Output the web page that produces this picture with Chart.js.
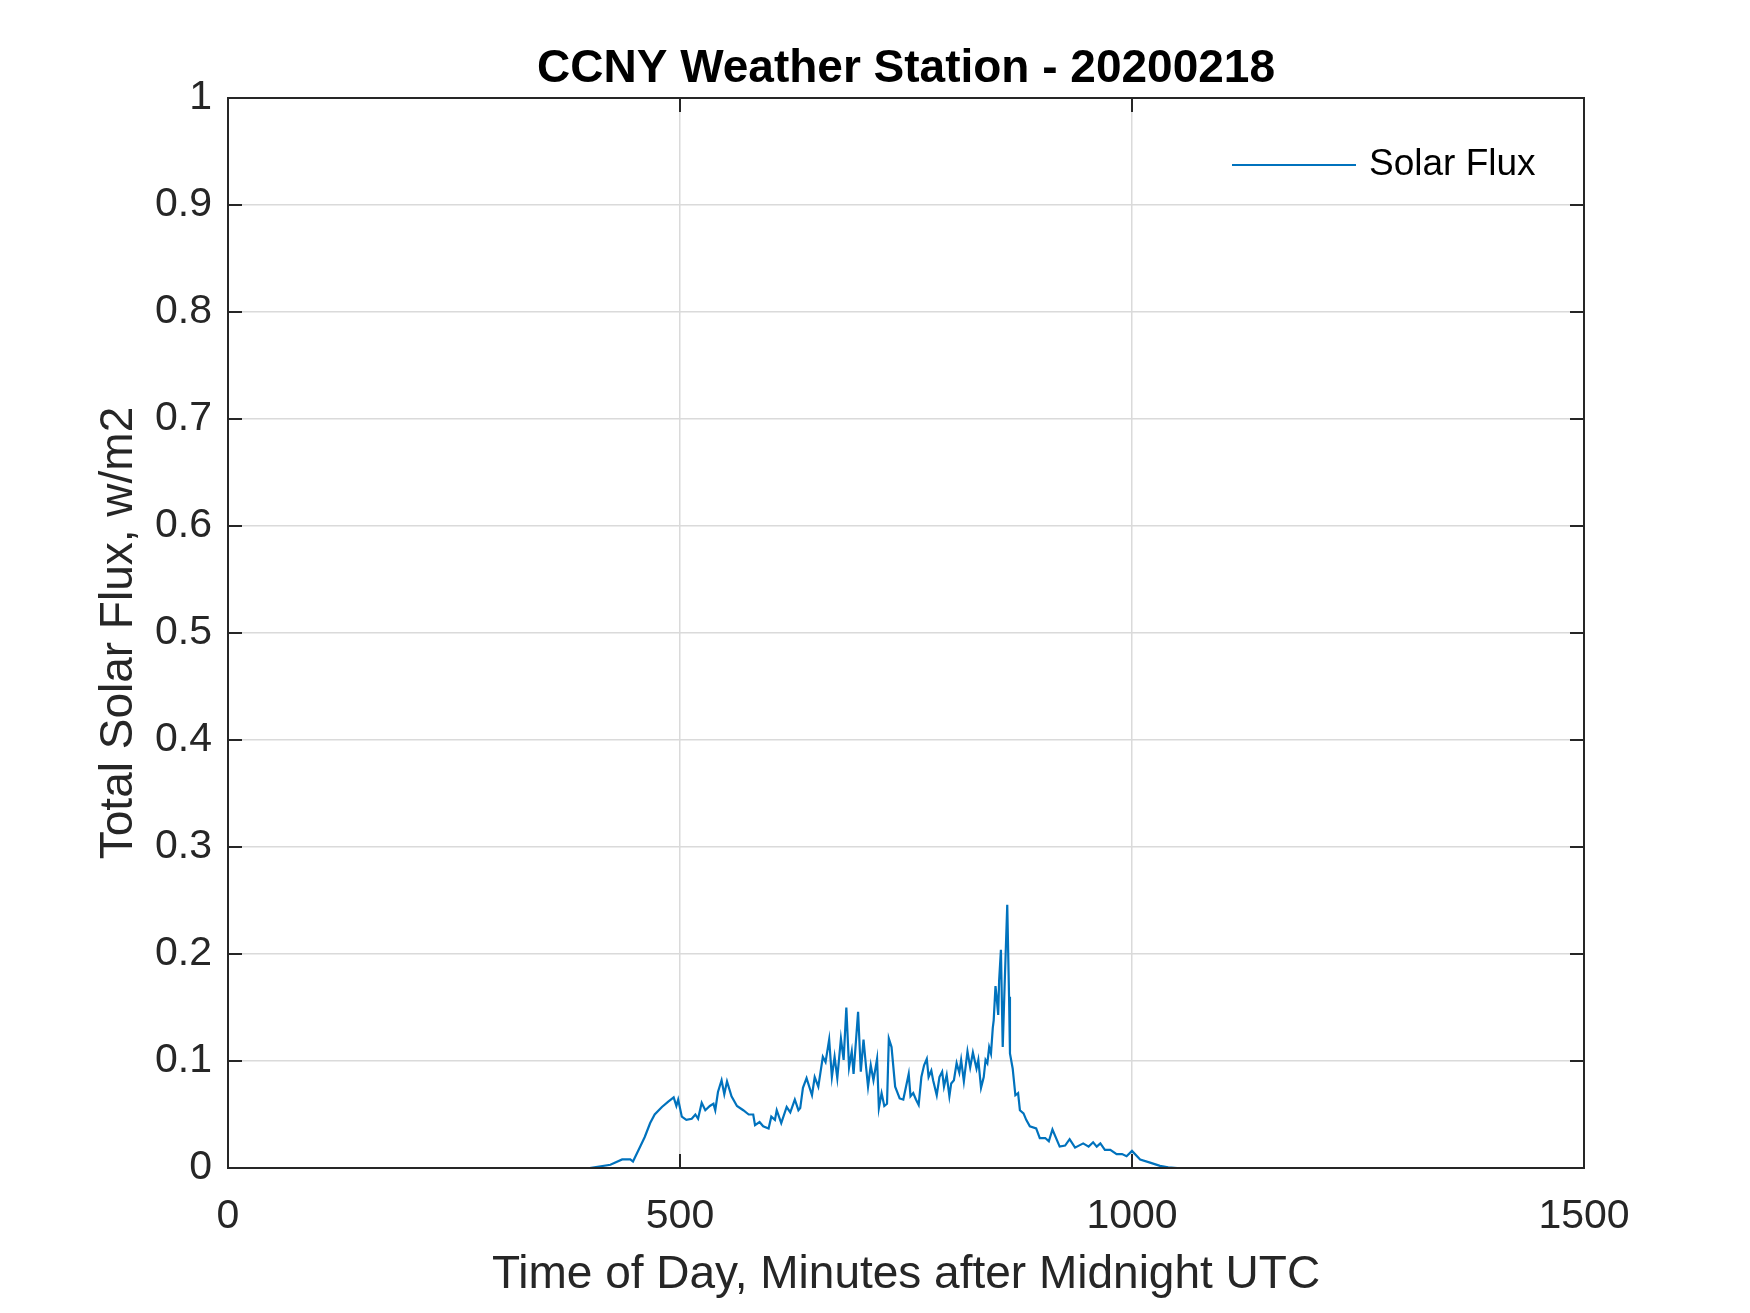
<!DOCTYPE html>
<html>
<head>
<meta charset="utf-8">
<title>CCNY Weather Station - 20200218</title>
<script src="https://cdn.jsdelivr.net/npm/chart.js@4.4.1/dist/chart.umd.min.js"></script>
<style>
  html, body { margin: 0; padding: 0; background: #fff; }
  #wrap { width: 1750px; height: 1313px; }
</style>
</head>
<body>
<div id="wrap"><canvas id="fluxChart" width="1750" height="1313"></canvas></div>
<script>
// Solar flux data
const minutes = [0, 400, 423, 436, 445, 448, 456, 461, 467, 472, 480, 487, 493, 496, 498,
    502, 507, 513, 517, 520, 524, 528, 533, 537, 539, 542, 546, 549, 552, 557,
    563, 570, 576, 581, 583, 588, 592, 598, 601, 605, 607, 612, 618, 622, 627,
    631, 633, 636, 640, 646, 649, 653, 658, 661, 665, 668, 671, 674, 678, 681,
    684, 687, 690, 692, 697, 700, 703, 706, 708, 711, 714, 718, 720, 723, 726,
    729, 731, 734, 738, 743, 747, 750, 753, 755, 758, 761, 764, 767, 770, 773,
    775, 778, 780, 784, 787, 790, 792, 795, 798, 800, 803, 806, 809, 811, 814,
    818, 821, 824, 828, 830, 833, 836, 838, 840, 842, 844, 846, 847, 849, 850,
    852, 853, 855, 857, 859, 862, 864, 865, 868, 871, 874, 876, 880, 883, 887,
    894, 898, 904, 908, 912, 920, 926, 931, 937, 946, 952, 957, 961, 965, 970,
    976, 983, 989, 994, 1000, 1009, 1020, 1031, 1040, 1050, 1440];
const solarFlux = [0, 0, 0.003, 0.008, 0.008, 0.006, 0.020, 0.029, 0.042, 0.050, 0.057, 0.062, 0.066, 0.058, 0.064,
    0.048, 0.045, 0.046, 0.050, 0.046, 0.061, 0.054, 0.058, 0.060, 0.054, 0.071, 0.082, 0.069, 0.081, 0.067,
    0.058, 0.054, 0.050, 0.050, 0.040, 0.043, 0.039, 0.037, 0.048, 0.045, 0.054, 0.042, 0.057, 0.052, 0.064,
    0.054, 0.056, 0.075, 0.084, 0.068, 0.085, 0.076, 0.104, 0.099, 0.120, 0.085, 0.104, 0.084, 0.121, 0.101,
    0.150, 0.094, 0.109, 0.088, 0.146, 0.090, 0.120, 0.093, 0.076, 0.096, 0.082, 0.102, 0.056, 0.070, 0.058,
    0.060, 0.121, 0.113, 0.076, 0.065, 0.064, 0.076, 0.088, 0.067, 0.070, 0.064, 0.059, 0.085, 0.096, 0.102,
    0.085, 0.091, 0.082, 0.068, 0.085, 0.090, 0.076, 0.087, 0.067, 0.079, 0.082, 0.098, 0.089, 0.101, 0.081,
    0.109, 0.094, 0.108, 0.093, 0.101, 0.075, 0.085, 0.101, 0.098, 0.113, 0.107, 0.131, 0.138, 0.170, 0.162,
    0.143, 0.175, 0.204, 0.113, 0.168, 0.246, 0.160, 0.107, 0.093, 0.068, 0.070, 0.054, 0.051, 0.045, 0.039,
    0.037, 0.028, 0.028, 0.025, 0.036, 0.020, 0.021, 0.027, 0.019, 0.023, 0.020, 0.024, 0.020, 0.023, 0.017,
    0.017, 0.013, 0.013, 0.011, 0.016, 0.008, 0.005, 0.002, 0.0006, 0, 0];

const xTicks = [0, 500, 1000, 1500];
const yTicks = [0, 0.1, 0.2, 0.3, 0.4, 0.5, 0.6, 0.7, 0.8, 0.9, 1];

const axisColor = '#262626';
const lineColor = '#0072BD';
const font = '"Liberation Sans", Arial, Helvetica, sans-serif';

// MATLAB-style box with inward ticks, plus the legend
const framePlugin = {
    id: 'frame',
    afterDatasetsDraw(chart) {
        const ctx = chart.ctx;
        const a = chart.chartArea;
        const xs = chart.scales.x;
        const ys = chart.scales.y;
        const tl = 14;
        ctx.save();
        ctx.strokeStyle = axisColor;
        ctx.lineWidth = 2;
        ctx.strokeRect(a.left, a.top, a.right - a.left, a.bottom - a.top);
        ctx.beginPath();
        xTicks.forEach(v => {
            const px = xs.getPixelForValue(v);
            ctx.moveTo(px, a.bottom); ctx.lineTo(px, a.bottom - tl);
            ctx.moveTo(px, a.top); ctx.lineTo(px, a.top + tl);
        });
        yTicks.forEach(v => {
            const py = ys.getPixelForValue(v);
            ctx.moveTo(a.left, py); ctx.lineTo(a.left + tl, py);
            ctx.moveTo(a.right, py); ctx.lineTo(a.right - tl, py);
        });
        ctx.stroke();

        // legend
        const ds = chart.data.datasets[0];
        const ly = a.top + 67;
        ctx.strokeStyle = ds.borderColor;
        ctx.lineWidth = ds.borderWidth;
        ctx.beginPath();
        ctx.moveTo(a.right - 352, ly);
        ctx.lineTo(a.right - 228, ly);
        ctx.stroke();
        ctx.fillStyle = '#000';
        ctx.font = '37px ' + font;
        ctx.textBaseline = 'middle';
        ctx.textAlign = 'left';
        ctx.fillText(ds.label, a.right - 215, ly);
        ctx.restore();
    }
};

new Chart(document.getElementById('fluxChart'), {
    type: 'line',
    data: {
        datasets: [{
            label: 'Solar Flux',
            data: minutes.map((m, i) => ({ x: m, y: solarFlux[i] })),
            borderColor: lineColor,
            borderWidth: 2.2,
            pointRadius: 0,
            tension: 0,
            fill: false
        }]
    },
    options: {
        responsive: false,
        animation: false,
        devicePixelRatio: 1,
        layout: { padding: { left: 62, right: 0, top: 0, bottom: 0 } },
        plugins: {
            legend: { display: false },
            tooltip: { enabled: false },
            title: {
                display: true,
                text: 'CCNY Weather Station - 20200218',
                color: '#000',
                font: { family: font, size: 46, weight: 'bold', lineHeight: 1 },
                padding: { top: 46, bottom: 6 }
            }
        },
        scales: {
            x: {
                type: 'linear',
                min: 0,
                max: 1500,
                afterBuildTicks: s => { s.ticks = xTicks.map(v => ({ value: v })); },
                afterFit: s => { s.height = 145; },
                grid: { color: '#dadada', lineWidth: 1.5, drawTicks: false },
                border: { display: false },
                ticks: {
                    color: axisColor,
                    font: { family: font, size: 41 },
                    padding: 24,
                    maxRotation: 0,
                    callback: v => String(v)
                },
                title: {
                    display: true,
                    text: 'Time of Day, Minutes after Midnight UTC',
                    color: axisColor,
                    font: { family: font, size: 46 },
                    padding: { top: 0, bottom: 10 }
                }
            },
            y: {
                min: 0,
                max: 1,
                afterBuildTicks: s => { s.ticks = yTicks.map(v => ({ value: v })); },
                afterFit: s => { s.width = 166; },
                grid: { color: '#dadada', lineWidth: 1.5, drawTicks: false },
                border: { display: false },
                ticks: {
                    color: axisColor,
                    font: { family: font, size: 41 },
                    padding: 16,
                    callback: v => String(Number(v.toFixed(1)))
                },
                title: {
                    display: true,
                    text: 'Total Solar Flux, w/m2',
                    color: axisColor,
                    font: { family: font, size: 46 },
                    padding: { top: 30, bottom: 0 }
                }
            },
            // empty right-hand axis that keeps the plot (and title) where MATLAB puts them
            yRight: {
                position: 'right',
                min: 0,
                max: 1,
                afterFit: s => { s.width = 166; },
                grid: { display: false },
                border: { display: false },
                ticks: { display: false }
            }
        }
    },
    plugins: [framePlugin]
});
</script>
</body>
</html>
